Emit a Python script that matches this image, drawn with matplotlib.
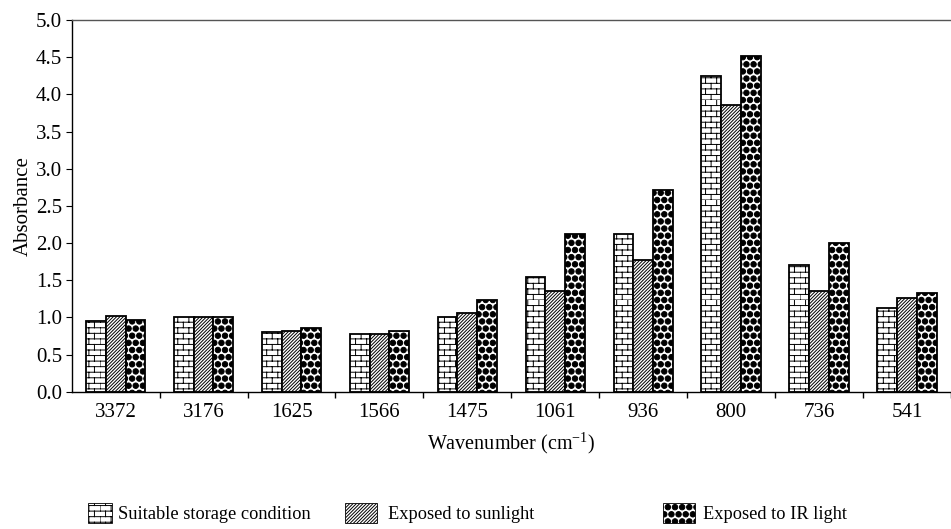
import warnings
import numpy as np
import matplotlib
matplotlib.use("Agg")
import matplotlib.pyplot as plt
from matplotlib import hatch as mhatch
from matplotlib.path import Path
from matplotlib.patches import Patch

warnings.filterwarnings("ignore")

# ---------------- data ----------------
wavenumbers = ["3372", "3176", "1625", "1566", "1475", "1061", "936", "800", "736", "541"]
storage = [0.95, 1.00, 0.80, 0.77, 1.00, 1.54, 2.12, 4.24, 1.70, 1.13]
sunlight = [1.02, 1.00, 0.82, 0.78, 1.06, 1.35, 1.77, 3.86, 1.35, 1.26]
ir_light = [0.97, 1.00, 0.86, 0.81, 1.23, 2.12, 2.71, 4.52, 2.00, 1.33]
series_names = ["Suitable storage condition", "Exposed to sunlight", "Exposed to IR light"]
yticks = [0.0, 0.5, 1.0, 1.5, 2.0, 2.5, 3.0, 3.5, 4.0, 4.5, 5.0]


# ---------------- custom hatches ----------------
class BrickHatch(mhatch.HatchPatternBase):
    def __init__(self, hatch, density):
        n = int(hatch.count('b') * 18)
        if n % 2:
            n += 1
        self.num_rows = n
        self.num_cols = max(n // 2, 1)
        self.num_vertices = 0 if n == 0 else (n + n * self.num_cols) * 2

    def set_vertices_and_codes(self, vertices, codes):
        n, c = self.num_rows, self.num_cols
        pts = []
        for i in range(n):
            y = i / n
            pts.append([(0.0, y), (1.0, y)])
        for i in range(n):
            y0, y1 = i / n, (i + 1) / n
            shift = 0.5 if i % 2 else 0.0
            for j in range(c):
                xx = (j + shift) / c
                pts.append([(xx, y0), (xx, y1)])
        vertices[:] = np.array(pts).reshape(-1, 2)
        codes[0::2] = Path.MOVETO
        codes[1::2] = Path.LINETO


class BallHatch(mhatch.HatchPatternBase):
    size = 0.38

    def __init__(self, hatch, density):
        n = hatch.count('B') * 14
        self.num_rows = n
        circ = Path.unit_circle()
        self.cv = circ.vertices
        self.cc = circ.codes
        if n == 0:
            self.num_vertices = 0
        else:
            centers = []
            off = 1.0 / n
            for row in range(n + 1):
                if row % 2 == 0:
                    cols = np.linspace(0, 1, n + 1)
                else:
                    cols = np.linspace(off / 2, 1 - off / 2, n)
                for cpos in cols:
                    centers.append((cpos, row * off))
            self.centers = centers
            self.num_vertices = len(centers) * len(self.cv)

    def set_vertices_and_codes(self, vertices, codes):
        off = 1.0 / self.num_rows
        sv = self.cv * off * self.size
        parts_v = [sv + np.array(c) for c in self.centers]
        parts_c = [self.cc for _ in self.centers]
        vertices[:] = np.concatenate(parts_v)
        codes[:] = np.concatenate(parts_c)


mhatch._hatch_types.append(BrickHatch)
mhatch._hatch_types.append(BallHatch)

# ---------------- figure ----------------
plt.rcParams['font.family'] = ['Liberation Serif', 'DejaVu Serif']
plt.rcParams['hatch.linewidth'] = 0.7

fig = plt.figure(figsize=(9.51, 5.29), dpi=100)
L, R, B, T = 71.7, 951, 391.7, 20
ax = fig.add_axes([L / 951, 1 - B / 529, (R - L) / 951, (B - T) / 529])

x = np.arange(len(wavenumbers))
w = 0.225
hatches = ['b', '//////////', 'B']
data = [storage, sunlight, ir_light]
for k, (vals, h) in enumerate(zip(data, hatches)):
    ax.bar(x + (k - 1) * w, vals, width=w, facecolor='white', edgecolor='black',
           hatch=h, linewidth=1.3, zorder=2)

ax.set_xlim(-0.5, -0.5 + (R - L) / 88.9)
ax.set_ylim(0, 5.0)
ax.set_yticks(yticks)
ax.set_yticklabels([f"{v:.1f}" for v in yticks])
ax.set_xticks(x)
ax.set_xticklabels(wavenumbers)
ax.set_xticks(np.arange(-0.5, len(wavenumbers), 1.0)[1:], minor=True)
ax.tick_params(axis='x', which='major', length=0, pad=8, labelsize=15)
ax.tick_params(axis='x', which='minor', length=4, direction='out', width=1)
ax.tick_params(axis='y', length=4, direction='out', labelsize=15, pad=3)

ax.spines['right'].set_visible(False)
for s in ['left', 'bottom', 'top']:
    ax.spines[s].set_linewidth(1.0)
ax.spines['top'].set_color('#555555')

ax.set_ylabel("Absorbance", fontsize=15, labelpad=2)
ax.set_xlabel("Wavenumber (cm$^{\\mathregular{-1}}$)", fontsize=14.5, labelpad=6)

# legends placed individually
leg_x = [88, 345, 663]
hlen = [1.3, 1.75, 1.75]
tpad = [0.35, 0.6, 0.45]
for name, h, lx, hl, tp in zip(series_names, hatches, leg_x, hlen, tpad):
    patch = Patch(facecolor='white', edgecolor='black', hatch=h, linewidth=0.6)
    fig.legend([patch], [name], loc='center left',
               bbox_to_anchor=(lx / 951, 1 - 513 / 529), frameon=False,
               fontsize=13.2, handlelength=hl, handleheight=1.3,
               handletextpad=tp, borderpad=0, borderaxespad=0)

fig.savefig("out.png", dpi=100)
